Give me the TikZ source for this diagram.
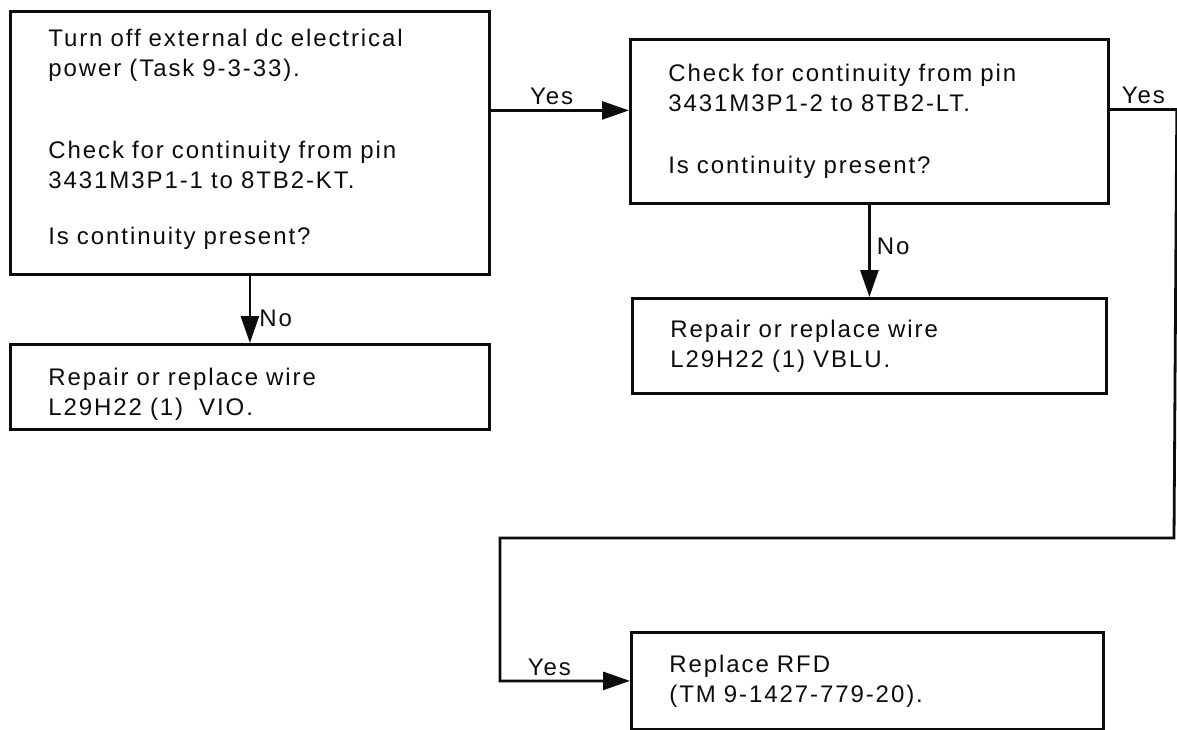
\documentclass[tikz,border=0pt]{standalone}
\usepackage{fontspec}
\setmainfont{Liberation Sans}[LetterSpace=8, WordSpace=1.6]
\usetikzlibrary{arrows.meta,positioning,calc}
\definecolor{chartInk}{RGB}{12,12,12}
\tikzset{
  stepbox/.style={rectangle, draw=chartInk, line width=2.8pt, anchor=north west,
    align=left, inner xsep=38pt, inner ysep=0pt, text=chartInk,
    font=\fontsize{24}{30}\selectfont},
  edgelabel/.style={font=\fontsize{24}{30}\selectfont, text=chartInk, inner sep=4pt},
  flowline/.style={draw=chartInk, line width=2.8pt},
  flowarrow/.style={-{Triangle[length=27pt,width=18pt]}, draw=chartInk, line width=2.8pt},
}

\begin{document}
\begin{tikzpicture}[x=1pt, y=-1pt]
  \useasboundingbox (0,0) rectangle (1177,730);

  \node[stepbox, text width=403pt, text height=35pt, text depth=228pt] (checkKT) at (9,10)
    {Turn off external dc electrical\\
    power (Task 9-3-33).\\[52pt]
    Check for continuity from pin\\
    3431M3P1-1 to 8TB2-KT.\\[26pt]
    Is continuity present?};

  \node[stepbox, text width=402pt, text height=42pt, text depth=122pt] (checkLT) at (629,38)
    {Check for continuity from pin\\
    3431M3P1-2 to 8TB2-LT.\\[32pt]
    Is continuity present?};

  \node[stepbox, text width=403pt, text height=41pt, text depth=44pt] (wireVIO) at (9,343)
    {Repair or replace wire\\
    L29H22 (1)\ \ VIO.};

  \node[stepbox, text width=398pt, text height=39pt, text depth=56pt] (wireVBLU) at (631,297)
    {Repair or replace wire\\
    L29H22 (1) VBLU.};

  \node[stepbox, text width=396pt, text height=40pt, text depth=57pt] (replaceRFD) at (630,631)
    {Replace RFD\\
    (TM 9-1427-779-20).};

  % branch points
  \coordinate (yesIn) at ([yshift=11pt]checkLT.west);
  \coordinate (yesOut) at ([yshift=12pt]checkLT.east);
  \coordinate (railTop) at ([xshift=67pt]yesOut);
  \coordinate (railBottom) at (1174,538);
  \coordinate (railLeft) at (500,538);

  \draw[flowarrow] (checkKT.east |- yesIn) -- (yesIn)
    node[pos=0.44, above, edgelabel] {Yes};
  \draw[flowarrow] (checkKT.south) -- (wireVIO.north)
    node[pos=0.63, right, edgelabel, xshift=4pt] {No};
  \draw[flowarrow] (checkLT.south) -- (wireVBLU.north)
    node[pos=0.45, right, edgelabel, xshift=2pt] {No};
  \draw[flowline] (yesOut) -- (railTop)
    node[midway, above, edgelabel] {Yes};
  \draw[flowarrow] (railTop) -- (railBottom) -- (railLeft)
    -- (railLeft |- replaceRFD.west) -- (replaceRFD.west)
    node[pos=0.38, above, edgelabel] {Yes};
\end{tikzpicture}
\end{document}
